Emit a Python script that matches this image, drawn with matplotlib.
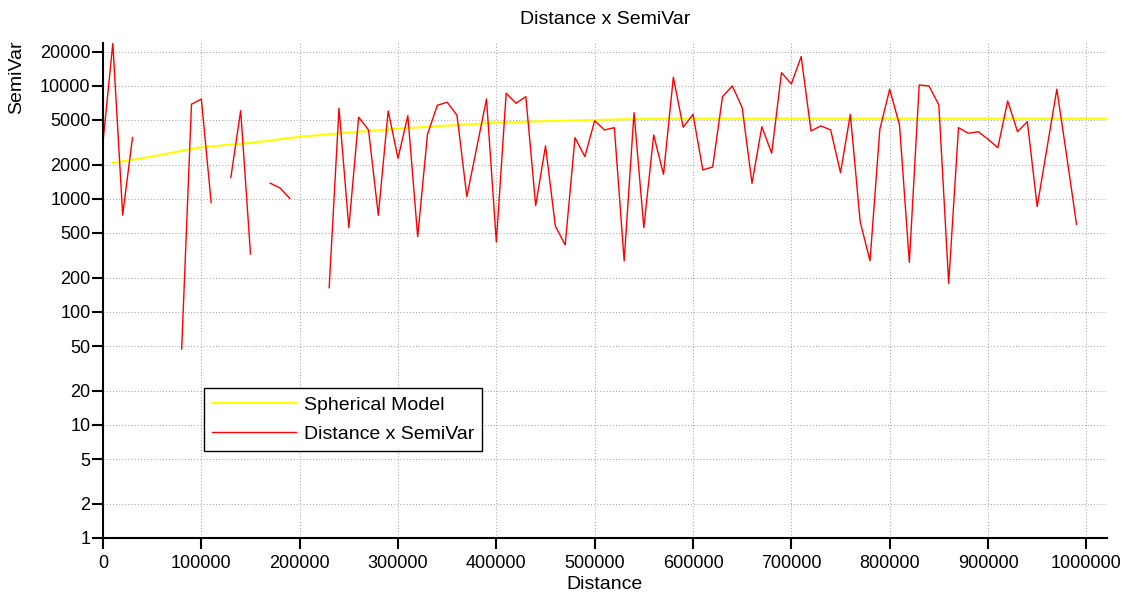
import numpy as np
import matplotlib.pyplot as plt
from matplotlib.ticker import NullLocator

plt.rcParams['font.family'] = ['Liberation Sans', 'DejaVu Sans']

# lag bins (m) and experimental semivariance, NaN = empty bin
lag_distance = np.arange(0, 1000000, 10000)
semivar = [
    3200, 23800, 720, 3500, np.nan, np.nan, np.nan, np.nan, 47, 6900,
    7650, 930, np.nan, 1550, 6050, 325, np.nan, 1380, 1250, 1010,
    np.nan, np.nan, np.nan, 164, 6350, 557, 5290, 4080, 717, 6010,
    2290, 5460, 464, 3735, 6750, 7180, 5500, 1049, 2830, 7670,
    416, 8620, 7030, 8050, 873, 2945, 577, 392, 3490, 2370,
    4930, 4080, 4275, 283, 5800, 557, 3684, 1653, 11940, 4307,
    5610, 1806, 1920, 8050, 10000, 6430, 1376, 4360, 2537, 13120,
    10420, 18180, 4000, 4430, 4080, 1710, 5610, 629, 284, 4140,
    9360, 4520, 275, 10200, 10000, 6790, 179, 4275, 3810, 3940,
    3375, 2844, 7370, 3940, 4830, 855, 2830, 9360, 2400, 597,
]

# fitted spherical model
model_distance = [10000, 50000, 100000, 150000, 200000, 250000, 300000,
                  350000, 400000, 450000, 500000, 550000, 600000, 1021000]
model_semivar = [2080, 2380, 2870, 3130, 3550, 3870, 4190,
                 4460, 4730, 4880, 5000, 5120, 5150, 5150]

x_ticks = [0, 100000, 200000, 300000, 400000, 500000,
           600000, 700000, 800000, 900000, 1000000]
y_ticks = [1, 2, 5, 10, 20, 50, 100, 200, 500, 1000, 2000, 5000, 10000, 20000]

fig = plt.figure(figsize=(11.3, 5.97), dpi=100)
ax = fig.add_axes([103 / 1130, 1 - 538 / 597, 1004 / 1130, 495 / 597])

ax.plot(model_distance, model_semivar, color='#ffff00', lw=1.5, label='Spherical Model')
ax.plot(lag_distance, semivar, color='#ff0000', lw=1.0, label='Distance x SemiVar')

ax.set_yscale('log')
ax.set_xlim(0, 1021000)
ax.set_ylim(1, 24000)
ax.set_xticks(x_ticks)
ax.set_xticklabels([str(t) for t in x_ticks])
ax.set_yticks(y_ticks)
ax.set_yticklabels([str(t) for t in y_ticks])
ax.yaxis.set_minor_locator(NullLocator())

ax.grid(True, color='#a8a8a8', linestyle=(0, (1, 2)), lw=0.75)
for side in ['top', 'right']:
    ax.spines[side].set_visible(False)
for side in ['left', 'bottom']:
    ax.spines[side].set_linewidth(1.5)

ax.tick_params(axis='both', direction='out', length=8, width=1.5, labelsize=13)
ax.tick_params(axis='y', pad=1)
ax.tick_params(axis='x', pad=4)

ax.set_title('Distance x SemiVar', fontsize=14, pad=14)
ax.set_xlabel('Distance', fontsize=14, labelpad=3)
ax.set_ylabel('SemiVar', fontsize=14)
ax.yaxis.set_label_coords(25 / 1130, 1 - 77 / 597, transform=fig.transFigure)

leg = ax.legend(loc='upper left', bbox_to_anchor=(204 / 1130, 1 - 388 / 597),
                bbox_transform=fig.transFigure, borderaxespad=0, fancybox=False,
                edgecolor='black', framealpha=1, fontsize=14, handlelength=4.3,
                handletextpad=0.4, borderpad=0.42, labelspacing=0.6)
leg.get_frame().set_linewidth(1.0)

fig.savefig('out.png', dpi=100)
